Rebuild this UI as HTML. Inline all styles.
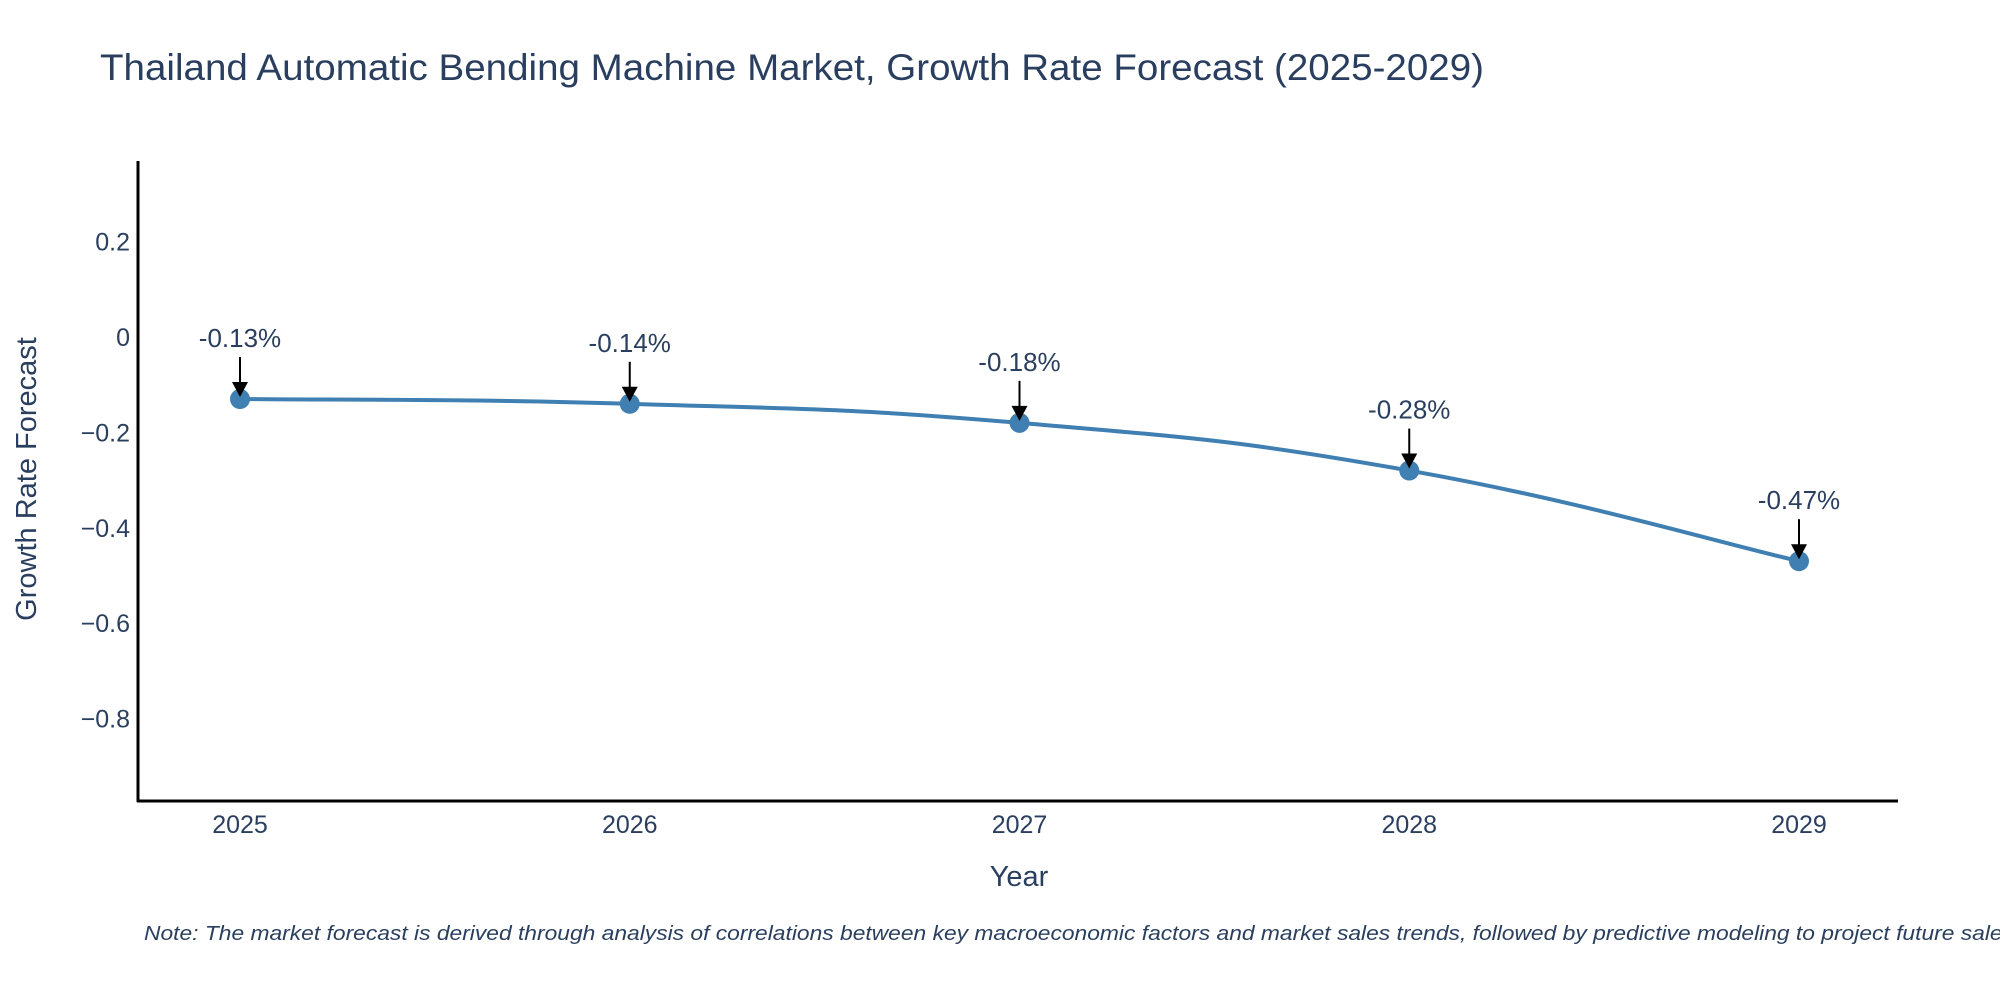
<!DOCTYPE html>
<html><head><meta charset="utf-8"><style>
html,body{margin:0;padding:0;background:#fff}
svg text{font-family:"Liberation Sans","DejaVu Sans",sans-serif;fill:#2a3f5f}
</style></head><body>
<svg id="chart" width="2000" height="1000" xmlns="http://www.w3.org/2000/svg">
<rect width="2000" height="1000" fill="#fff"/>
<text x="100" y="80" font-size="37" textLength="1384" lengthAdjust="spacingAndGlyphs">Thailand Automatic Bending Machine Market, Growth Rate Forecast (2025-2029)</text>
<g id="yticks"></g>
<g id="xticks"></g>
<g id="series"></g>
<g id="annots"></g>
<line x1="138" y1="161" x2="138" y2="802" stroke="#000" stroke-width="3"/>
<line x1="137" y1="801" x2="1898" y2="801" stroke="#000" stroke-width="3"/>
<text x="1019" y="886" font-size="29" text-anchor="middle">Year</text>
<text transform="translate(36,479) rotate(-90)" font-size="29" text-anchor="middle">Growth Rate Forecast</text>
<text x="144" y="940" font-size="20" font-style="italic" textLength="1870" lengthAdjust="spacingAndGlyphs">Note: The market forecast is derived through analysis of correlations between key macroeconomic factors and market sales trends, followed by predictive modeling to project future sales</text>
</svg>
<script>
const years = [2025, 2026, 2027, 2028, 2029];
const values = [-0.13, -0.14, -0.18, -0.28, -0.47];
const labels = ["-0.13%", "-0.14%", "-0.18%", "-0.28%", "-0.47%"];
const yTicks = [0.2, 0, -0.2, -0.4, -0.6, -0.8];
const yTickLabels = ["0.2", "0", "\u22120.2", "\u22120.4", "\u22120.6", "\u22120.8"];

const NS = "http://www.w3.org/2000/svg";
const X0 = 240, X1 = 1799, Y0 = 337, PER = 477;
function xs(v){ return X0 + (v - years[0]) * (X1 - X0) / (years[years.length-1] - years[0]); }
function ys(v){ return Y0 - v * PER; }
function mk(tag, attrs, parent){ const e = document.createElementNS(NS, tag); for (const k in attrs) e.setAttribute(k, attrs[k]); parent.appendChild(e); return e; }

const yg = document.getElementById('yticks');
yTicks.forEach((t, i) => {
  const el = mk('text', {x: 130, y: ys(t) + 9, 'font-size': 25, 'text-anchor': 'end'}, yg);
  
  
  el.textContent = yTickLabels[i];
});
const xg = document.getElementById('xticks');
years.forEach(y => {
  const el = mk('text', {x: xs(y), y: 833, 'font-size': 25, 'text-anchor': 'middle'}, xg);
  
  
  el.textContent = String(y);
});

const pts = years.map((y, i) => [xs(y), ys(values[i])]);
let d = `M${pts[0][0]},${pts[0][1]}`;
const s = 0.22;
for (let i = 0; i < pts.length - 1; i++) {
  const p0 = pts[Math.max(i-1,0)], p1 = pts[i], p2 = pts[i+1], p3 = pts[Math.min(i+2, pts.length-1)];
  const c1 = [p1[0] + (p2[0]-p0[0])*s, p1[1] + (p2[1]-p0[1])*s];
  const c2 = [p2[0] - (p3[0]-p1[0])*s, p2[1] - (p3[1]-p1[1])*s];
  d += ` C${c1[0]},${c1[1]} ${c2[0]},${c2[1]} ${p2[0]},${p2[1]}`;
}
const sg = document.getElementById('series');
const line = mk('path', {d: d, fill: 'none', stroke: '#3f7fb1', 'stroke-width': 4}, sg);


pts.forEach(p => {
  const c = mk('circle', {cx: p[0], cy: p[1], r: 10, fill: '#3f7fb1'}, sg);
  
  
});

const ag = document.getElementById('annots');
pts.forEach((p, i) => {
  const top = p[1] - 42;
  const l = mk('line', {x1: p[0], y1: top, x2: p[0], y2: p[1] - 14, stroke: '#000', 'stroke-width': 2}, ag);
  
  
  const h = mk('polygon', {points: `${p[0]-8},${p[1]-17} ${p[0]+8},${p[1]-17} ${p[0]},${p[1]-2}`, fill: '#000'}, ag);
  
  
  const t = mk('text', {x: p[0], y: top - 10, 'font-size': 26, 'text-anchor': 'middle'}, ag);
  
  
  t.textContent = labels[i];
});
</script>
</body></html>
